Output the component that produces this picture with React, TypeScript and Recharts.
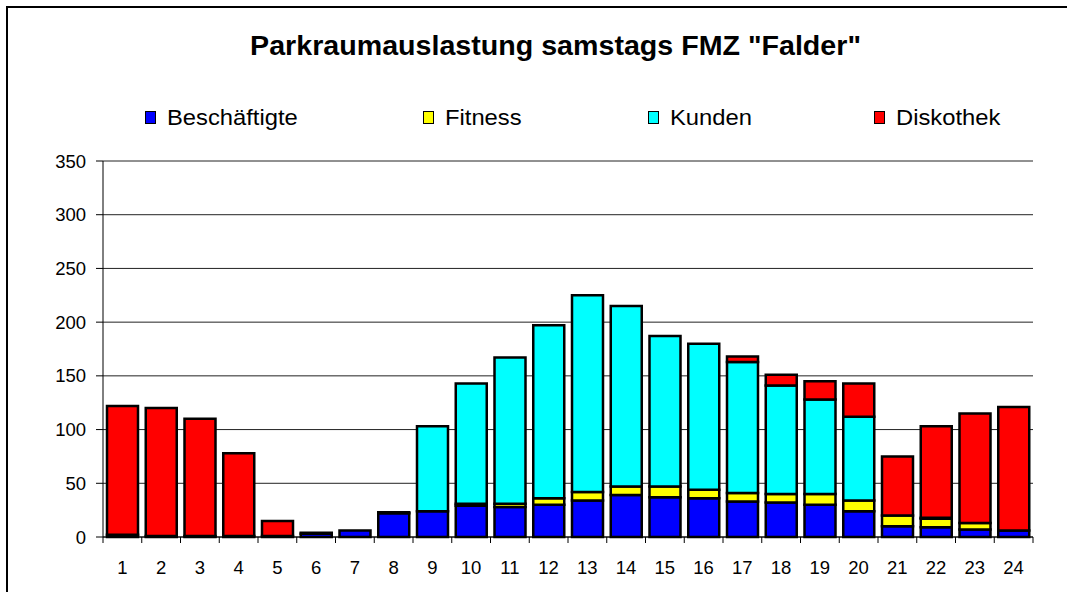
import React from 'react';
import {
  BarChart,
  Bar,
  XAxis,
  YAxis,
  CartesianGrid,
  Legend,
} from 'recharts';

const hours = ['1', '2', '3', '4', '5', '6', '7', '8', '9', '10', '11', '12', '13', '14', '15', '16', '17', '18', '19', '20', '21', '22', '23', '24'];
const beschaeftigte = [2, 1, 1, 1, 1, 3, 6, 22, 24, 29, 28, 30, 34, 39, 37, 36, 33, 32, 30, 24, 10, 9, 7, 6];
const fitness = [0, 0, 0, 0, 0, 0, 0, 1, 0, 2, 3, 6, 8, 8, 10, 8, 8, 8, 10, 10, 10, 8, 6, 0];
const kunden = [0, 0, 0, 0, 0, 0, 0, 0, 79, 112, 136, 161, 183, 168, 140, 136, 122, 101, 88, 78, 0, 1, 0, 0];
const diskothek = [120, 119, 109, 77, 14, 1, 0, 0, 0, 0, 0, 0, 0, 0, 0, 0, 5, 10, 17, 31, 55, 85, 102, 115];
const yTicks = [0, 50, 100, 150, 200, 250, 300, 350];

const SERIES = [
  { key: 'Beschäftigte', values: beschaeftigte, color: '#0000ff' },
  { key: 'Fitness', values: fitness, color: '#ffff00' },
  { key: 'Kunden', values: kunden, color: '#00ffff' },
  { key: 'Diskothek', values: diskothek, color: '#ff0000' },
];

const data = hours.map((h, i) => {
  const row: Record<string, string | number> = { hour: h };
  SERIES.forEach((s) => {
    row[s.key] = s.values[i];
  });
  return row;
});

const W = 1067;
const H = 592;
const PLOT_LEFT = 103;
const PLOT_RIGHT = 1033;
const BAND = (PLOT_RIGHT - PLOT_LEFT) / hours.length;
const FONT = 'Arial, "Liberation Sans", sans-serif';

// legend item x positions (square left edge)
const LEGEND_X = [145, 423, 648, 874];

const renderLegend = () => (
  <div style={{ position: 'relative', height: 0, width: W }}>
    {SERIES.map((s, i) => (
      <div key={s.key} style={{ position: 'absolute', left: LEGEND_X[i], top: 0 }}>
        <div
          style={{
            position: 'absolute',
            left: 0,
            top: 111,
            width: 9,
            height: 11,
            background: s.color,
            border: '1.5px solid #000',
          }}
        />
        <span
          style={{
            position: 'absolute',
            left: 22,
            top: 105,
            fontFamily: FONT,
            fontSize: 22,
            lineHeight: '26px',
            whiteSpace: 'nowrap',
            color: '#000',
            display: 'inline-block',
            transform: 'scaleX(1.08)',
            transformOrigin: 'left center',
          }}
        >
          {s.key}
        </span>
      </div>
    ))}
  </div>
);

const XTick = (props: any) => {
  const { x, y, payload, index } = props;
  return (
    <g>
      {index === 0 && (
        <line x1={x - BAND / 2} x2={x - BAND / 2} y1={y} y2={y + 6} stroke="#000" />
      )}
      <line x1={x + BAND / 2} x2={x + BAND / 2} y1={y} y2={y + 6} stroke="#000" />
      <text x={x} y={y + 37} textAnchor="middle" fontFamily={FONT} fontSize={18.5} fill="#000">
        {payload.value}
      </text>
    </g>
  );
};

export default function App() {
  return (
    <div
      style={{
        position: 'absolute',
        left: 0,
        top: 0,
        width: W,
        height: H,
        overflow: 'hidden',
        background: '#fff',
      }}
    >
      <div
        style={{
          position: 'absolute',
          left: 6,
          top: 6,
          width: W + 20,
          height: H + 20,
          borderLeft: '2px solid #000',
          borderTop: '2px solid #000',
        }}
      />
      <div
        style={{
          position: 'absolute',
          left: 0,
          top: 30,
          width: W,
          textAlign: 'center',
          fontFamily: FONT,
          fontWeight: 'bold',
          fontSize: 27,
          lineHeight: '32px',
          transform: 'scaleX(1.06)',
          transformOrigin: '555px center',
        }}
      >
        <span style={{ position: 'relative', left: 22 }}>Parkraumauslastung samstags FMZ "Falder"</span>
      </div>
      <div style={{ position: 'absolute', left: 0, top: 0 }}>
        <BarChart
          width={W}
          height={H}
          data={data}
          margin={{ top: 161, right: W - PLOT_RIGHT, left: 0, bottom: 15 }}
          barCategoryGap={4}
        >
          <CartesianGrid vertical={false} stroke="#222" />
          <XAxis
            dataKey="hour"
            height={40}
            tickSize={0}
            tickMargin={0}
            tickLine={false}
            axisLine={{ stroke: '#000' }}
            tick={<XTick />}
            interval={0}
          />
          <YAxis
            width={PLOT_LEFT}
            domain={[0, 350]}
            ticks={yTicks}
            tickSize={7}
            tickMargin={10}
            axisLine={{ stroke: '#000' }}
            tickLine={{ stroke: '#000' }}
            tick={{ fontSize: 18.5, fill: '#000', fontFamily: FONT }}
          />
          <YAxis
            yAxisId="right"
            orientation="right"
            width={0}
            domain={[0, 350]}
            tick={false}
            tickLine={false}
            axisLine={{ stroke: '#666' }}
          />
          <Legend content={renderLegend} wrapperStyle={{ left: 0, top: 0, width: W, height: 0 }} />
          {SERIES.map((s) => (
            <Bar
              key={s.key}
              dataKey={s.key}
              stackId="a"
              fill={s.color}
              stroke="#000"
              strokeWidth={2.5}
              isAnimationActive={false}
            />
          ))}
        </BarChart>
      </div>
    </div>
  );
}
